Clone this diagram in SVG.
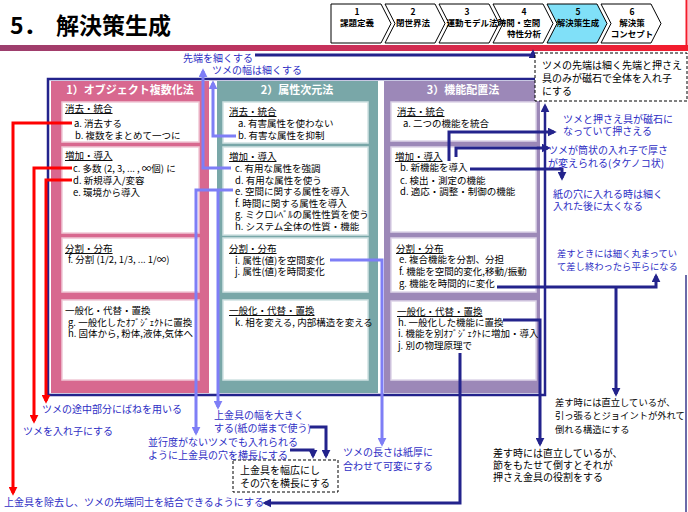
<svg xmlns="http://www.w3.org/2000/svg" width="688" height="512" viewBox="0 0 688 512">
<defs>
<linearGradient id="bar" x1="0" x2="1" y1="0" y2="0">
<stop offset="0" stop-color="#9C3F6E"/><stop offset="0.5" stop-color="#C9305A"/><stop offset="1" stop-color="#F41C2C"/>
</linearGradient>
<marker id="mN" viewBox="0 0 10 10" refX="7" refY="5" markerWidth="9" markerHeight="9" markerUnits="userSpaceOnUse" orient="auto"><path d="M0,0 L10,5 L0,10 z" fill="#23238C"/></marker>
<marker id="mL" viewBox="0 0 10 10" refX="7" refY="5" markerWidth="9" markerHeight="9" markerUnits="userSpaceOnUse" orient="auto"><path d="M0,0 L10,5 L0,10 z" fill="#7E7EF6"/></marker>
<marker id="mR" viewBox="0 0 10 10" refX="7" refY="5" markerWidth="9" markerHeight="9" markerUnits="userSpaceOnUse" orient="auto"><path d="M0,0 L10,5 L0,10 z" fill="#FF0000"/></marker>
</defs>
<style>
text{font-family:"Noto Sans CJK JP","Noto Sans",sans-serif;}
.title{font-size:23px;font-weight:bold;fill:#000}
.chev{fill:#fff;stroke:#000;stroke-width:1}
.ct{font-size:8.5px;font-weight:bold;fill:#000;text-anchor:middle}
.box{fill:#fff;stroke-width:1.5}
.it{font-size:9.5px;fill:#000}
.ttl{font-size:9.5px;fill:#000;text-decoration:underline}
.hdr{font-size:11px;font-weight:bold;fill:#fff;text-anchor:middle}
.lb{font-size:10px;fill:#2E2EC4}
.lk{font-size:10px;fill:#000}
.sm{font-size:9.3px}
.dash{fill:#fff;stroke:#000;stroke-width:1;stroke-dasharray:3,2}
.nv{stroke:#23238C;stroke-width:3;fill:none;marker-end:url(#mN)}
.lv{stroke:#7E7EF6;stroke-width:3;fill:none;marker-end:url(#mL)}
.rd{stroke:#FF0000;stroke-width:3;fill:none;marker-end:url(#mR)}
</style>
<rect width="688" height="512" fill="#fff"/>

<g id="header">
<text class="title" y="34"><tspan x="10">5．</tspan><tspan x="56">解決策生成</tspan></text>
<rect x="0" y="45" width="688" height="6" fill="url(#bar)"/>
<line x1="686.5" y1="0" x2="686.5" y2="46" stroke="#F41C2C" stroke-width="2"/>
</g>

<g id="progress">
<polygon class="chev" points="331,4 381,4 391,23.5 381,43 331,43"/>
<polygon class="chev" points="385,4 435,4 445,23.5 435,43 385,43 395,23.5"/>
<polygon class="chev" points="439,4 489,4 499,23.5 489,43 439,43 449,23.5"/>
<polygon class="chev" points="493,4 543,4 553,23.5 543,43 493,43 503,23.5"/>
<polygon class="chev" points="547,4 597,4 607,23.5 597,43 547,43 557,23.5" style="fill:#80E0F8"/>
<polygon class="chev" points="601,4 651,4 661,23.5 651,43 601,43 611,23.5"/>
<text class="ct" x="357" y="15">1</text><text class="ct" x="357" y="26">課題定義</text>
<text class="ct" x="413" y="15">2</text><text class="ct" x="413" y="26">閉世界法</text>
<text class="ct" x="467" y="15">3</text><text class="ct" x="472" y="26">運動モデル法</text>
<text class="ct" x="524" y="15">4</text><text class="ct" x="519" y="26">時間・空間</text><text class="ct" x="524" y="37">特性分析</text>
<text class="ct" x="578" y="15">5</text><text class="ct" x="578" y="26">解決策生成</text>
<text class="ct" x="632" y="15">6</text><text class="ct" x="632" y="26">解決策</text><text class="ct" x="632" y="37">コンセプト</text>
</g>

<g id="col1">
<rect x="51" y="81" width="158" height="312" fill="#D8688F"/>
<text class="hdr" x="130" y="94">1）オブジェクト複数化法</text>
<g id="c1-a"><rect class="box" x="62" y="102" width="137" height="40" stroke="#F0C8D6"/>
<text class="ttl" x="65" y="112">消去・統合</text>
<text class="it" x="74" y="127">a. 消去する</text>
<text class="it" x="75" y="139">b. 複数をまとめて一つに</text></g>
<g id="c1-b"><rect class="box" x="62" y="147" width="137" height="86" stroke="#F0C8D6"/>
<text class="ttl" x="65" y="159">増加・導入</text>
<text class="it" x="73" y="172">c. 多数 (2, 3, ... , ∞個) に</text>
<text class="it" x="73" y="184">d. 新規導入/変容</text>
<text class="it" x="73" y="196">e. 環境から導入</text></g>
<g id="c1-c"><rect class="box" x="62" y="238" width="137" height="54" stroke="#F0C8D6"/>
<text class="ttl" x="65" y="252">分割・分布</text>
<text class="it" x="68" y="263">f. 分割 (1/2, 1/3, ... 1/∞)</text></g>
<g id="c1-d"><rect class="box" x="62" y="300" width="137" height="80" stroke="#F0C8D6"/>
<text class="it" x="65" y="314">一般化・代替・置換</text>
<text class="it" x="68" y="326">g. 一般化したｵﾌﾞｼﾞｪｸﾄに置換</text>
<text class="it" x="68" y="337">h. 固体から, 粉体,液体,気体へ</text></g>
</g>

<g id="col2">
<rect x="217" y="81" width="161" height="312" fill="#79A7A8"/>
<text class="hdr" x="297" y="94">2）属性次元法</text>
<g id="c2-a"><rect class="box" x="223" y="102" width="145" height="41" stroke="#CFE2E2"/>
<text class="ttl" x="229" y="115">消去・統合</text>
<text class="it" x="238" y="127">a. 有害属性を使わない</text>
<text class="it" x="238" y="139">b. 有害な属性を抑制</text></g>
<g id="c2-b"><rect class="box" x="223" y="147" width="145" height="88" stroke="#CFE2E2"/>
<text class="ttl" x="229" y="160">増加・導入</text>
<text class="it" x="235" y="172">c. 有用な属性を強調</text>
<text class="it" x="235" y="183.5">d. 有用な属性を使う</text>
<text class="it" x="235" y="195">e. 空間に関する属性を導入</text>
<text class="it" x="235" y="206.5">f. 時間に関する属性を導入</text>
<text class="it" x="235" y="218">g. ミクロﾚﾍﾞﾙの属性性質を使う</text>
<text class="it" x="235" y="229.5">h. システム全体の性質・機能</text></g>
<g id="c2-c"><rect class="box" x="223" y="238" width="145" height="54" stroke="#CFE2E2"/>
<text class="ttl" x="229" y="252">分割・分布</text>
<text class="it" x="235" y="264">i. 属性(値)を空間変化</text>
<text class="it" x="235" y="275">j. 属性(値)を時間変化</text></g>
<g id="c2-d"><rect class="box" x="223" y="300" width="145" height="80" stroke="#CFE2E2"/>
<text class="ttl" x="229" y="314">一般化・代替・置換</text>
<text class="it" x="235" y="326">k. 相を変える, 内部構造を変える</text></g>
</g>

<g id="col3">
<rect x="384" y="81" width="156" height="312" fill="#9C88B8"/>
<text class="hdr" x="463" y="94">3）機能配置法</text>
<g id="c3-a"><rect class="box" x="391" y="102" width="145" height="39" stroke="#DDD4E8"/>
<text class="ttl" x="397" y="115">消去・統合</text>
<text class="it" x="403" y="127">a. 二つの機能を統合</text></g>
<g id="c3-b"><rect class="box" x="391" y="147" width="145" height="85" stroke="#DDD4E8"/>
<text class="ttl" x="395" y="160">増加・導入</text>
<text class="it" x="400" y="171">b. 新機能を導入</text>
<text class="it" x="400" y="184">c. 検出・測定の機能</text>
<text class="it" x="400" y="195">d. 適応・調整・制御の機能</text></g>
<g id="c3-c"><rect class="box" x="391" y="238" width="145" height="54" stroke="#DDD4E8"/>
<text class="ttl" x="396" y="252">分割・分布</text>
<text class="it" x="399" y="263">e. 複合機能を分割、分担</text>
<text class="it" x="399" y="275">f. 機能を空間的変化,移動/振動</text>
<text class="it" x="399" y="287">g. 機能を時間的に変化</text></g>
<g id="c3-d"><rect class="box" x="391" y="301" width="145" height="79" stroke="#DDD4E8"/>
<text class="ttl" x="397" y="315">一般化・代替・置換</text>
<text class="it" x="398" y="326">h. 一般化した機能に置換</text>
<text class="it" x="398" y="337">i. 機能を別ｵﾌﾞｼﾞｪｸﾄに増加・導入</text>
<text class="it" x="398" y="349">j. 別の物理原理で</text></g>
</g>

<g id="connectors">
<path d="M535,79 H48 V395 H545 V106" stroke="#23238C" stroke-width="2.5" fill="none" marker-end="url(#mN)"/>
<path class="nv" d="M255,55 H533 V52"/>
<path class="rd" d="M72,123 H13 V493"/>
<path class="rd" d="M72,168 H34 V421"/>
<path class="rd" d="M72,180 H46 V401"/>
<path class="lv" d="M231,168 H203 V71"/>
<path class="lv" d="M236,136 H213 V83"/>
<path class="lv" d="M233,190 H196 V433"/>
<path class="lv" d="M218,190 V407"/>
<path class="lv" d="M330,260 H382 V444"/>
<path class="nv" d="M449,161 V132 H554"/>
<path class="nv" d="M456,157 V148 H548"/>
<path class="nv" d="M470,169 H562 V178"/>
<path class="nv" d="M497,287 H656 V276"/>
<path class="nv" d="M616,287 V394"/>
<path class="nv" d="M503,320 H540 V444"/>
<path class="nv" d="M460,353 V503 H265"/>
<path class="nv" d="M310,427 H326 V456"/>
<path class="nv" d="M290,450 H313 V456"/>
<line x1="686" y1="275" x2="686" y2="512" stroke="#3A3A8C" stroke-width="1.5"/>
</g>

<g id="labels">
<text id="l-sentan" class="lb" x="183" y="62">先端を細くする</text>
<text id="l-haba" class="lb" x="212" y="74">ツメの幅は細くする</text>
<g id="l-magnet-box"><rect class="dash" x="535" y="53" width="152" height="48"/>
<text class="lk" x="542" y="69">ツメの先端は細く先端と押さえ</text>
<text class="lk" x="542" y="82">具のみが磁石で全体を入れ子</text>
<text class="lk" x="542" y="95">にする</text></g>
<g id="l-magnet"><text class="lb" x="563" y="123">ツメと押さえ具が磁石に</text>
<text class="lb" x="563" y="135">なっていて押さえる</text></g>
<g id="l-tube"><text class="lb" x="548" y="154">ツメが筒状の入れ子で厚さ</text>
<text class="lb" x="548" y="167">が変えられる(タケノコ状)</text></g>
<g id="l-hole"><text class="lb" x="553" y="198">紙の穴に入れる時は細く</text>
<text class="lb" x="553" y="210">入れた後に太くなる</text></g>
<g id="l-curl"><text class="lb sm" x="557" y="257">差すときには細く丸まってい</text>
<text class="lb sm" x="557" y="270">て差し終わったら平らになる</text></g>
<g id="l-joint"><text class="lk sm" x="555" y="406">差す時には直立しているが、</text>
<text class="lk sm" x="555" y="419">引っ張るとジョイントが外れて</text>
<text class="lk sm" x="555" y="433">倒れる構造にする</text></g>
<g id="l-node"><text class="lk" x="493" y="457">差す時には直立しているが、</text>
<text class="lk" x="493" y="469">節をもたせて倒すとそれが</text>
<text class="lk" x="493" y="481">押さえ金具の役割をする</text></g>
<g id="l-length"><text class="lb" x="343" y="456">ツメの長さは紙厚に</text>
<text class="lb" x="343" y="470">合わせて可変にする</text></g>
<g id="l-wide-box"><rect class="dash" x="233" y="460" width="105" height="32"/>
<text class="lk" x="240" y="474">上金具を幅広にし</text>
<text class="lk" x="240" y="487">その穴を横長にする</text></g>
<g id="l-width"><text class="lb" x="214" y="419">上金具の幅を大きく</text>
<text class="lb" x="214" y="432">する(紙の端まで使う)</text></g>
<g id="l-parallel"><text class="lb" x="148" y="446">並行度がないツメでも入れられる</text>
<text class="lb" x="148" y="459">ように上金具の穴を横長にする</text></g>
<text id="l-spring" class="lb" x="42" y="413">ツメの途中部分にばねを用いる</text>
<text id="l-nest" class="lb" x="23" y="435">ツメを入れ子にする</text>
<text id="l-remove" class="lb" x="4" y="506">上金具を除去し、ツメの先端同士を結合できるようにする</text>
</g>
</svg>
